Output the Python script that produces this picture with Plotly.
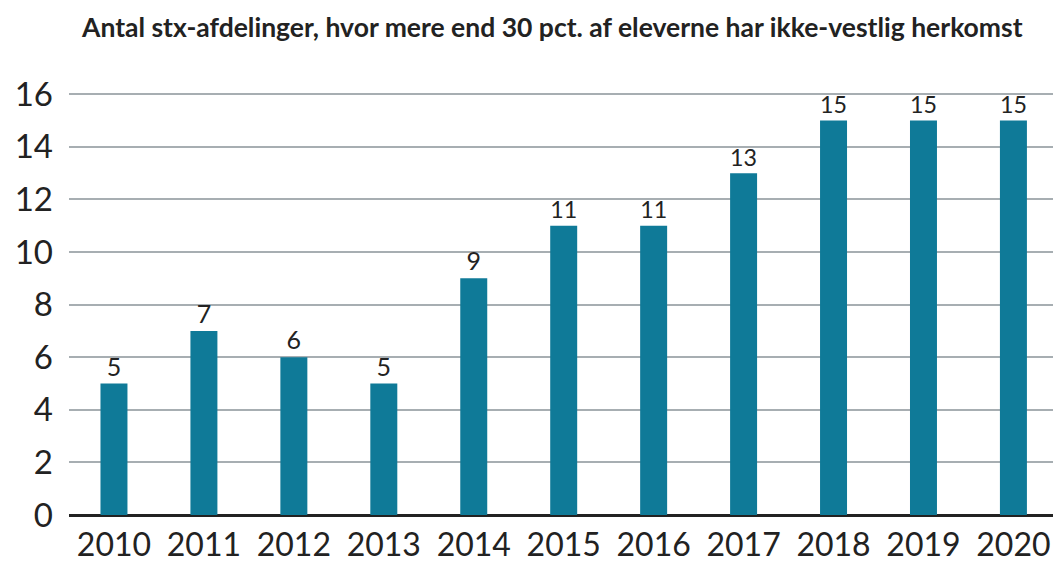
import plotly.graph_objects as go

years = ["2010", "2011", "2012", "2013", "2014", "2015", "2016", "2017", "2018", "2019", "2020"]
values = [5, 7, 6, 5, 9, 11, 11, 13, 15, 15, 15]
y_ticks = [0, 2, 4, 6, 8, 10, 12, 14, 16]
title_text = "Antal stx-afdelinger, hvor mere end 30 pct. af eleverne har ikke-vestlig herkomst"

T, B = 93, 47
H = 562 - T - B

fig = go.Figure(
    go.Bar(
        x=years,
        y=values,
        text=[str(v) for v in values],
        textposition="outside",
        textfont=dict(family="Lato", size=25, color="#222222"),
        marker=dict(color="#0f7a98", line=dict(width=0)),
        cliponaxis=False,
    )
)

fig.update_layout(
    width=1053,
    height=562,
    margin=dict(l=69, r=0, t=T, b=B),
    paper_bgcolor="white",
    plot_bgcolor="white",
    bargap=0.7,
    showlegend=False,
    font=dict(family="Lato", color="#222222"),
    annotations=[
        dict(
            text="<b>" + title_text + "</b>",
            x=(552 - 69) / (1053 - 69),
            y=1 + (T - 27) / H,
            xref="paper",
            yref="paper",
            xanchor="center",
            yanchor="middle",
            showarrow=False,
            font=dict(family="Lato", size=26.5, color="#222222"),
        )
    ],
)

fig.update_xaxes(
    type="category",
    range=[-0.5, 10.44],
    showgrid=False,
    showline=False,
    ticks="",
    automargin=False,
    ticklabelstandoff=8,
    tickfont=dict(family="Lato", size=32, color="#222222"),
)

fig.update_yaxes(
    range=[0, 16.05],
    tickvals=y_ticks,
    showgrid=True,
    gridcolor="#a7aeb2",
    gridwidth=2,
    zeroline=True,
    zerolinecolor="#222222",
    zerolinewidth=3,
    ticks="",
    automargin=False,
    ticklabelstandoff=15,
    tickfont=dict(family="Lato", size=33, color="#222222"),
)

fig.write_html(
    "out.html",
    config={"displayModeBar": False},
    post_script="document.body.style.margin='0';document.body.style.overflow='hidden';",
)
